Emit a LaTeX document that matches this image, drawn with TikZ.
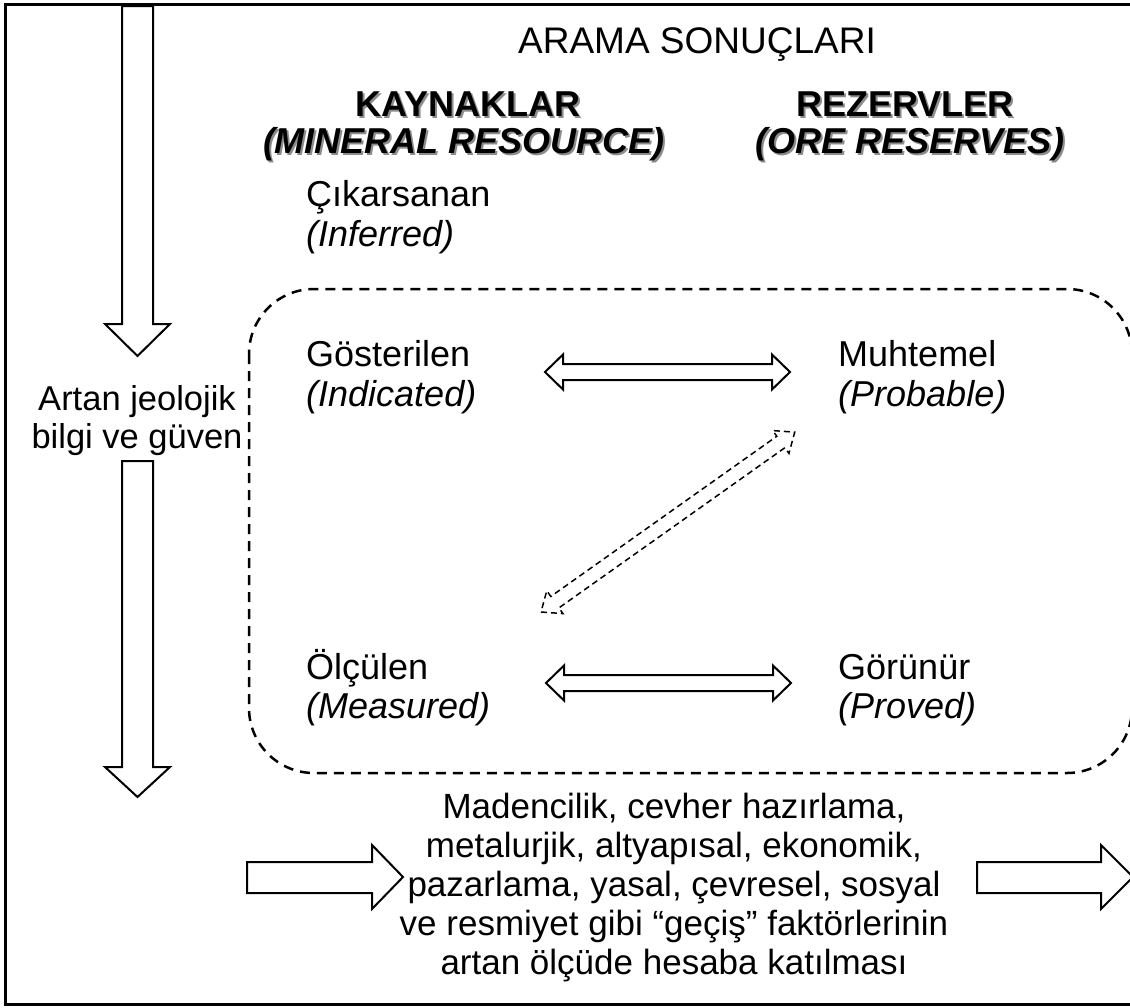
\documentclass[tikz,border=0pt]{standalone}
\usepackage{fontspec}
\setmainfont{Liberation Sans}
\begin{document}
\begin{tikzpicture}[x=1pt,y=-1pt,
  txt/.style={inner sep=0pt, anchor=base west, font=\fontsize{36}{40}\selectfont},
  ctxt/.style={inner sep=0pt, anchor=base, font=\fontsize{36}{40}\selectfont},
  stxt/.style={inner sep=0pt, anchor=base, font=\fontsize{34.5}{40}\selectfont},
  ttxt/.style={inner sep=0pt, anchor=base, font=\fontsize{37}{40}\selectfont},
  btxt/.style={inner sep=0pt, anchor=base, font=\fontsize{35}{40}\selectfont},
  itxt/.style={txt, font=\fontsize{36}{40}\selectfont\itshape},
  head/.style={inner sep=0pt, anchor=base, font=\fontsize{36}{40}\selectfont\bfseries},
  headi/.style={head, font=\fontsize{36}{40}\selectfont\bfseries\itshape},
  shadowtxt/.style={text=black!45},
  fat/.style={draw=black, line width=2pt, fill=white, line join=miter},
  fatdash/.style={draw=black, line width=1.5pt, dash pattern=on 6pt off 4pt, fill=white},
  zone/.style={draw=black, line width=2.5pt, dash pattern=on 10pt off 7pt, rounded corners=65pt}
]
\useasboundingbox (0,0) rectangle (1130,1007);
\clip (0,0) rectangle (1130,1007);
\fill[white] (0,0) rectangle (1130,1007);

% outer frame
\draw[line width=3pt] (5,4.5) rectangle (1200,1004.5);

% title
\node[ttxt] (title) at (697,53) {ARAMA SONUÇLARI};

% headings with shadow
\node[head, shadowtxt] (kayS) at (470,118) {KAYNAKLAR};
\node[head] (kay) at (468,116) {KAYNAKLAR};
\node[headi, shadowtxt] (minS) at (466,155) {(MINERAL RESOURCE)};
\node[headi] (min) at (464,153) {(MINERAL RESOURCE)};
\node[head, shadowtxt] (rezS) at (907,118) {REZERVLER};
\node[head] (rez) at (905,116) {REZERVLER};
\node[headi, shadowtxt] (oreS) at (912,155) {(ORE RESERVES)};
\node[headi] (ore) at (910,153) {(ORE RESERVES)};

% categories
\node[txt] (inf1) at (306,206) {Çıkarsanan};
\node[itxt] (inf2) at (306,246) {(Inferred)};
\node[txt] (ind1) at (306,366) {Gösterilen};
\node[itxt] (ind2) at (306,406) {(Indicated)};
\node[txt] (prb1) at (838,366) {Muhtemel};
\node[itxt] (prb2) at (838,406) {(Probable)};
\node[txt] (mea1) at (306,679) {Ölçülen};
\node[itxt] (mea2) at (306,718) {(Measured)};
\node[txt] (prv1) at (838,679) {Görünür};
\node[itxt] (prv2) at (838,718) {(Proved)};

% side text
\node[stxt] (side1) at (137,410) {Artan jeolojik};
\node[stxt] (side2) at (137,448) {bilgi ve güven};

% bottom text
\node[btxt] (b1) at (674,818) {Madencilik, cevher hazırlama,};
\node[btxt] (b2) at (674,857) {metalurjik, altyapısal, ekonomik,};
\node[btxt] (b3) at (674,896) {pazarlama, yasal, çevresel, sosyal};
\node[btxt] (b4) at (674,935) {ve resmiyet gibi “geçiş” faktörlerinin};
\node[btxt] (b5) at (674,974) {artan ölçüde hesaba katılması};

% dashed zone
\draw[zone] (249,289) rectangle (1132,773);

% vertical block arrows
\draw[fat] (122,6) -- (153,6) -- (153,324) -- (170,324) -- (137.5,356) -- (105,324) -- (122,324) -- cycle;
\draw[fat] (122,461) -- (153,461) -- (153,767) -- (170,767) -- (137.5,797) -- (105,767) -- (122,767) -- cycle;

% horizontal block arrows
\draw[fat] (247,862) -- (372,862) -- (372,845) -- (403,877) -- (372,909) -- (372,893) -- (247,893) -- cycle;
\draw[fat] (977,862) -- (1101,862) -- (1101,845) -- (1133,877) -- (1101,909) -- (1101,893) -- (977,893) -- cycle;

% double arrows
\draw[fat] (545,372) -- (563,354.5) -- (563,364) -- (772,364) -- (772,354.5) -- (790,372) -- (772,389.5) -- (772,380) -- (563,380) -- (563,389.5) -- cycle;
\draw[fat] (546,683) -- (564,665.5) -- (564,675) -- (773,675) -- (773,665.5) -- (791,683) -- (773,700.5) -- (773,691) -- (564,691) -- (564,700.5) -- cycle;

% diagonal dashed double arrow
\begin{scope}[shift={(541,612)}, rotate=35.33]
\draw[fatdash] (0,0) -- (17,14) -- (17,7) -- (294,7) -- (294,14) -- (311,0) -- (294,-14) -- (294,-7) -- (17,-7) -- (17,-14) -- cycle;
\end{scope}
\end{tikzpicture}
\end{document}
